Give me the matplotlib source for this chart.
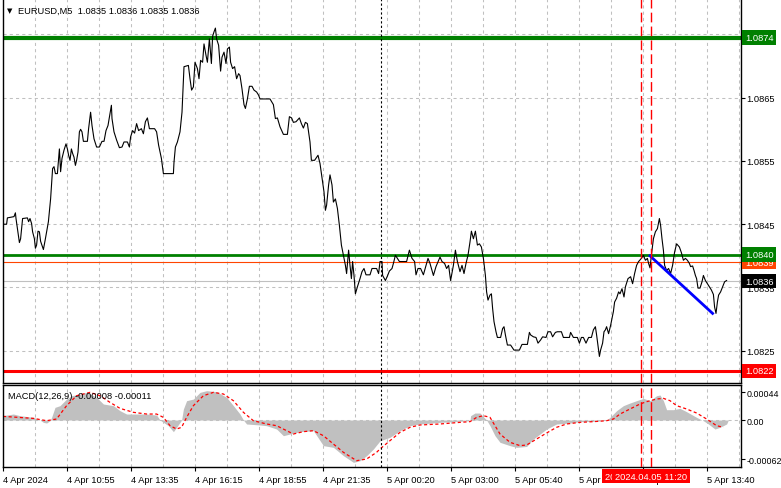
import matplotlib.pyplot as plt
from matplotlib.transforms import blended_transform_factory as blend

plt.rcParams['font.family'] = ['Liberation Sans', 'DejaVu Sans']
FS = 6.7

# EURUSD M5 close line: bar number and close price
bars = [0, 1.8, 2.2, 5.5, 6.2, 6.5, 7.7, 8.2, 8.8, 9.8, 12.2, 12.8, 13.5, 14.3, 14.8, 15.7, 16.2, 16.8,
        17.5, 18.2, 18.8, 20.2, 21.2, 22.7, 23.8, 24.8, 25.5, 26.2, 27.2, 28.2, 28.8, 29.5, 30.5, 31.5,
        32.2, 32.8, 33.5, 34.2, 34.8, 35.5, 36.2, 36.8, 37.5, 38.2, 38.8, 39.5, 40.2, 42.2, 42.8, 43.8,
        44.5, 45.5, 46.8, 48.2, 49.5, 50.5, 51.5, 52.5, 54.2, 54.5, 55.5, 56.8, 58.2, 59.5, 60.5, 62.2,
        63.2, 63.8, 64.8, 65.8, 66.8, 67.8, 69.2, 70.2, 71.2, 72.2, 73.2, 75.8, 76.8, 77.8, 79.2, 80.2,
        85.2, 85.5, 86.2, 87.2, 88.5, 89.5, 89.8,
        90.5, 92.7, 93.5, 94.3, 95.2, 96.0, 97.2, 98.0, 98.8, 99.8, 100.5, 101.5, 102.2, 103.2, 104.2,
        104.8, 105.5, 106.2, 106.8, 107.8, 108.8, 109.5, 110.5, 111.5, 112.2, 113.2, 113.8, 114.8, 115.8,
        116.8, 117.8, 118.5, 119.5, 120.5, 121.2, 122.2, 123.2, 124.5, 125.5, 126.8, 127.8, 128.5,
        133.5, 135.2, 136.2, 137.2, 138.5, 140.2, 142.2, 143.2, 144.3, 145.2, 146.5, 148.2, 149.2, 150.2,
        151.2, 152.2, 153.5, 154.2, 155.8, 157.5, 158.5, 159.8, 160.5, 161.2, 161.8, 162.8, 163.5, 164.5,
        165.2, 166.2, 167.2, 168.2, 169.2, 170.2, 171.2, 171.8, 172.8, 173.5, 174.2, 174.8, 175.5, 176.2,
        177.2, 178.5, 179.5, 180.5, 181.5, 183.5, 184.5, 186.8, 187.8, 188.5, 189.5, 189.8, 191.2, 192.2,
        193.2, 194.5, 195.2, 196.2, 197.2, 198.2, 201.8, 203.2, 204.5, 205.8, 206.5, 207.5, 208.8, 210.2,
        211.5, 212.5, 213.5, 215.2, 216.5, 218.5, 219.5, 220.8, 221.8, 222.8, 223.8, 225.2, 226.2, 227.2,
        228.5, 229.5, 230.5, 231.5, 232.5, 233.5, 234.2, 235.2, 236.2, 237.2, 238.2, 239.2, 240.2, 241.2,
        241.8, 242.5, 243.5, 244.2, 244.8, 245.5, 246.5, 247.2, 248.8, 249.8, 250.5, 251.2, 252.2, 253.8,
        255.5, 258.2,
        259.5, 262.2, 263.2, 263.8, 265.2, 266.5, 267.5, 268.8, 269.8, 271.5, 272.5, 273.8, 274.8, 276.2,
        277.2, 279.2, 280.2, 283.2, 283.8, 285.2, 287.2, 288.2, 289.2, 290.2, 291.5, 292.8, 294.2, 295.2,
        296.2, 296.8, 297.8, 298.2, 298.8, 299.8, 300.5, 301.2, 301.8, 302.8, 303.8, 304.5, 305.2, 305.8,
        306.8, 307.8, 308.5, 309.5, 310.5, 311.2, 312.5, 313.8, 314.8, 315.8, 316.8, 317.8, 319.2, 320.2,
        321.2, 322.2, 322.8, 323.5, 324.2, 325.2, 326.2, 327.2, 328.2, 328.8, 329.5, 330.2, 330.8, 331.8,
        332.8, 333.8, 334.8, 335.8, 336.8, 338.2, 339.2, 340.2, 341.2, 342.2, 343.2, 343.8, 344.8, 345.5,
        346.2, 346.8, 347.5, 348.5, 349.5, 350.2, 351.2, 352.2, 353.2, 354.2, 355.2, 355.8, 356.5, 357.2,
        357.8, 358.8, 359.8, 360.8, 361.8]
close = [1.08450, 1.08450, 1.08460, 1.08462, 1.08468, 1.08459, 1.08433, 1.08421, 1.08427, 1.08459,
         1.08460, 1.08454, 1.08459, 1.08451, 1.08438, 1.08427, 1.08412, 1.08417, 1.08439, 1.08438,
         1.08423, 1.08410, 1.08427, 1.08454, 1.08490, 1.08538, 1.08541, 1.08530, 1.08530, 1.08569,
         1.08533, 1.08554, 1.08567, 1.08577, 1.08569, 1.08559, 1.08551, 1.08569, 1.08562, 1.08556,
         1.08543, 1.08551, 1.08564, 1.08596, 1.08600, 1.08596, 1.08581, 1.08581, 1.08601, 1.08627,
         1.08606, 1.08585, 1.08572, 1.08572, 1.08581, 1.08581, 1.08598, 1.08606, 1.08638, 1.08617,
         1.08596, 1.08583, 1.08571, 1.08572, 1.08580, 1.08580, 1.08572, 1.08588, 1.08598, 1.08594,
         1.08609, 1.08598, 1.08601, 1.08593, 1.08612, 1.08618, 1.08601, 1.08601, 1.08596, 1.08575,
         1.08554, 1.08530, 1.08530, 1.08548, 1.08572, 1.08580, 1.08596, 1.08627, 1.08648,
         1.08699, 1.08701, 1.08680, 1.08662, 1.08667, 1.08706, 1.08696, 1.08680, 1.08709, 1.08706,
         1.08735, 1.08717, 1.08706, 1.08743, 1.08704, 1.08747, 1.08754, 1.08760, 1.08743, 1.08733,
         1.08692, 1.08714, 1.08722, 1.08704, 1.08727, 1.08730, 1.08706, 1.08696, 1.08699, 1.08680,
         1.08688, 1.08685, 1.08664, 1.08639, 1.08633, 1.08648, 1.08668, 1.08668, 1.08662, 1.08659,
         1.08654, 1.08648,
         1.08648, 1.08639, 1.08617, 1.08618, 1.08604, 1.08592, 1.08592, 1.08620, 1.08618, 1.08611,
         1.08612, 1.08618, 1.08609, 1.08602, 1.08611, 1.08609, 1.08580, 1.08551, 1.08551, 1.08559,
         1.08546, 1.08517, 1.08501, 1.08472, 1.08480, 1.08512, 1.08528, 1.08512, 1.08485, 1.08490,
         1.08475, 1.08448, 1.08417, 1.08401, 1.08385, 1.08372, 1.08409, 1.08385, 1.08364, 1.08391,
         1.08369, 1.08340, 1.08351, 1.08364, 1.08375, 1.08380, 1.08370, 1.08370, 1.08380, 1.08380,
         1.08372, 1.08391, 1.08391, 1.08369, 1.08361, 1.08368, 1.08376, 1.08380, 1.08388, 1.08401,
         1.08396, 1.08391, 1.08391, 1.08409, 1.08396, 1.08391, 1.08370, 1.08380, 1.08380, 1.08370,
         1.08385, 1.08396, 1.08388, 1.08369, 1.08383, 1.08398, 1.08391, 1.08388, 1.08380, 1.08385,
         1.08361, 1.08385, 1.08409, 1.08391, 1.08375, 1.08385, 1.08372, 1.08388, 1.08401, 1.08422,
         1.08439, 1.08427, 1.08439, 1.08417, 1.08419, 1.08414, 1.08396, 1.08369, 1.08343, 1.08330,
         1.08338, 1.08340, 1.08317, 1.08296, 1.08280, 1.08271, 1.08271, 1.08285, 1.08288, 1.08275,
         1.08259, 1.08259, 1.08251, 1.08251,
         1.08260, 1.08260, 1.08279, 1.08275, 1.08272, 1.08271, 1.08262, 1.08267, 1.08272, 1.08271,
         1.08280, 1.08280, 1.08272, 1.08279, 1.08280, 1.08280, 1.08271, 1.08271, 1.08279, 1.08271,
         1.08271, 1.08262, 1.08271, 1.08271, 1.08262, 1.08271, 1.08271, 1.08283, 1.08288, 1.08275,
         1.08251, 1.08241, 1.08251, 1.08262, 1.08280, 1.08283, 1.08288, 1.08277, 1.08290, 1.08301,
         1.08312, 1.08327, 1.08333, 1.08343, 1.08340, 1.08348, 1.08335, 1.08351, 1.08364, 1.08367,
         1.08356, 1.08372, 1.08385, 1.08391, 1.08396, 1.08401, 1.08393, 1.08396, 1.08388, 1.08381,
         1.08401, 1.08427, 1.08438, 1.08443, 1.08459, 1.08448, 1.08427, 1.08409, 1.08385, 1.08377,
         1.08380, 1.08372, 1.08385, 1.08406, 1.08419, 1.08414, 1.08405, 1.08393, 1.08396, 1.08393,
         1.08388, 1.08383, 1.08384, 1.08377, 1.08369, 1.08364, 1.08349, 1.08349, 1.08359, 1.08369,
         1.08361, 1.08356, 1.08351, 1.08346, 1.08339, 1.08319, 1.08309, 1.08327, 1.08338, 1.08343,
         1.08351, 1.08359, 1.08361]

# MACD(12,26,9) histogram and signal
hist_bars = [0, 5.2, 8.5, 15.2, 18.5, 20.2, 21.8, 23.5, 24.3, 26, 28.5, 31.8, 34.3, 38.5, 41.8, 46.8,
             50.2, 55.2, 58.5, 61.8, 71.8, 76.8, 78.5, 80.2, 82.7, 85.2, 86.8, 89.3, 90.2, 91.8, 95.2,
             98.5, 101.8, 106.8, 111.8, 115.2, 118.5, 120.2, 121.8, 128.5, 131.8, 136.8, 140.2, 143.5,
             148.5, 155.2, 160.2, 165.2, 170.2, 175.2, 178.5, 181.8, 185.2, 188.5, 193.5, 198.5, 203.5,
             208.5, 218.5, 233.5, 233.8, 236, 238.5, 240.5, 241.8, 243.5, 246, 248.5, 253.5, 256.8,
             261.8, 265.2, 268.5, 271.8, 276.8, 283.5, 288.5, 296.8, 301.8, 303.5, 306.8, 310.2, 313.5,
             316.8, 320.2, 323.5, 326.8, 328.5, 330.2, 331.8, 335.2, 338.5, 341.8, 346.8, 350.2, 352.7,
             356, 358.5, 361.8, 362.7]
hist_vals = [0.000069, 0.000095, 0.000069, 0.000042, 0, -0.000037, -0.000048, -0.000011, 0.000042,
             0.000201, 0.000228, 0.000333, 0.000386, 0.000413, 0.000439, 0.00036, 0.000254, 0.000228,
             0.000148, 0.000095, 0.000095, 0.000079, 0, -0.000037, -0.00009, -0.000185, -0.000116, 0,
             0.000175, 0.000307, 0.000333, 0.000439, 0.000466, 0.00045, 0.00036, 0.000228, 0.000095, 0,
             -0.000063, -0.000079, -0.00009, -0.000143, -0.000249, -0.000222, -0.000185, -0.000169,
             -0.000407, -0.000434, -0.000566, -0.000672, -0.000646, -0.000566, -0.00046, -0.00033,
             -0.000275, -0.000169, -0.00009, -0.000063, -0.000037, -0.000011, 0.000069, 0.000111,
             0.000111, 0.000042, 0, -0.00009, -0.000249, -0.000354, -0.000407, -0.000434, -0.00042,
             -0.000302, -0.000222, -0.000143, -0.000063, -0.000048, -0.000026, -0.000021, 0, 0.000042,
             0.000148, 0.000228, 0.00027, 0.000307, 0.000344, 0.000307, 0.000386, 0.000397, 0.000307,
             0.000164, 0.000164, 0.000185, 0.000132, 0.000042, -0.000011, -0.000063, -0.000143,
             -0.000116, -0.000063, 0]
sig_bars = [0, 15.2, 21.8, 26.8, 31.8, 36.8, 43.5, 48.5, 53.5, 58.5, 65.2, 71.8, 76.8, 80.2, 83.5,
            86.8, 89.3, 91.8, 95.2, 100.2, 105.2, 110.2, 115.2, 120.2, 125.2, 131.8, 136.8, 141.8,
            145.2, 150.2, 155.2, 160.2, 165.2, 170.2, 176.8, 181.8, 186.8, 188.5, 193.5, 198.5, 203.5,
            208.5, 218.5, 228.5, 233.5, 236.8, 240.2, 243.5, 246, 248.5, 253.5, 258.5, 261.8, 266.8,
            271.8, 276.8, 281.8, 288.5, 295.2, 301.8, 305.2, 308.5, 313.5, 318.5, 321.8, 326.8, 330.2,
            333.5, 336.8, 341.8, 346.8, 351.8, 356.8, 360.2]
sig_vals = [0.000058, 0.000026, -0.000011, 0.000016, 0.000228, 0.000386, 0.000439, 0.000386, 0.00028,
            0.000185, 0.000122, 0.000095, 0.000095, 0.000042, -0.00009, -0.000143, -0.000116,
            0.000042, 0.000228, 0.000386, 0.000439, 0.000413, 0.000307, 0.000122, -0.000011,
            -0.000063, -0.00009, -0.000169, -0.000222, -0.000185, -0.000169, -0.000249, -0.000381,
            -0.000513, -0.000646, -0.000619, -0.000513, -0.00046, -0.000328, -0.000196, -0.000116,
            -0.000079, -0.000063, -0.000037, -0.000026, 0.000042, 0.000069, 0.000042, -0.00009,
            -0.000222, -0.000354, -0.000407, -0.000397, -0.000302, -0.000206, -0.000116, -0.000063,
            -0.000037, -0.000026, -0.000011, 0.000016, 0.000095, 0.000175, 0.000254, 0.000291,
            0.000333, 0.000344, 0.000307, 0.000228, 0.000175, 0.000111, 0.000016, -0.00009, -0.000116]

# horizontal levels
levels = [1.08745, 1.08402, 1.0839, 1.0836, 1.08218]
level_labels = ['1.0874', '1.0840', '1.0839', '1.0836', '1.0822']
level_colors = ['#008000', '#008000', '#ff4500', '#c0c0c0', '#ff0000']
level_widths = [3.0, 2.0, 0.8, 0.8, 2.2]
label_boxes = ['#008000', '#008000', '#ff4500', '#000000', '#ff0000']
label_order = [2, 1, 3, 0, 4]   # drawing order, later ones on top

# trend line (bar, price)
trend_bars = [323.5, 354.8]
trend_prices = [1.08400, 1.08309]

# vertical markers
vlines_red = [319, 324]
vline_labels = ['2024.04.05 10:55', '2024.04.05 11:20']
vline_black = 189

price_ticks = [1.0825, 1.0835, 1.0845, 1.0855, 1.0865, 1.0875]
macd_ticks = [0.00044, 0.0, -0.00062]
macd_tick_labels = ['0.00044', '0.00', '-0.00062']
time_ticks = [0, 32, 64, 96, 128, 160, 192, 224, 256, 288, 320, 352]
time_labels = ['4 Apr 2024', '4 Apr 10:55', '4 Apr 13:35', '4 Apr 16:15', '4 Apr 18:55',
               '4 Apr 21:35', '5 Apr 00:20', '5 Apr 03:00', '5 Apr 05:40', '5 Apr 08:20',
               '5 Apr 11:00', '5 Apr 13:40']

W, H = 781, 489


def rect(x0, y0, x1, y1):
    return [x0 / W, 1 - y1 / H, (x1 - x0) / W, (y1 - y0) / H]


fig = plt.figure(figsize=(W / 100, H / 100), dpi=100)
ax = fig.add_axes(rect(3, 0, 741, 384))
mx = fig.add_axes(rect(3, 386, 741, 468))

grid_kw = dict(color='#c0c0c0', lw=0.75, ls=(0, (3, 3)), zorder=0)
for a in (ax, mx):
    a.set_xlim(0, 369)
    for b in range(16, 369, 16):
        a.axvline(b, **grid_kw)
    for s in a.spines.values():
        s.set_linewidth(1.0)
ax.spines['top'].set_visible(False)

# main price panel
ax.set_ylim(1.08199, 1.08806)
for p in price_ticks:
    ax.axhline(p, **grid_kw)
for lv, c, w in zip(levels, level_colors, level_widths):
    ax.axhline(lv, color=c, lw=w, zorder=1)
ax.plot(bars, close, color='black', lw=0.8, zorder=2)
ax.plot(trend_bars, trend_prices, color='#0000ff', lw=2.0, zorder=3)

ax.yaxis.tick_right()
ax.set_yticks(price_ticks)
ax.set_yticklabels([f'{p:.4f}' for p in price_ticks])
ax.tick_params(axis='y', length=3, pad=1, labelsize=FS, width=0.8)
ax.tick_params(axis='x', bottom=False, labelbottom=False)

tr = blend(ax.transAxes, ax.transData)
for k, i in enumerate(label_order):
    ax.text(1.0055, levels[i], level_labels[i], transform=tr, ha='left', va='center',
            fontsize=FS, color='white', clip_on=False, zorder=5 + k,
            bbox=dict(boxstyle='square,pad=0.3', fc=label_boxes[i], ec='none'))

ax.text(0.006, 0.971, '\u25bc', transform=ax.transAxes, fontsize=5, va='center',
        family='DejaVu Sans')
ax.text(0.021, 0.971, 'EURUSD,M5  1.0835 1.0836 1.0835 1.0836', transform=ax.transAxes,
        fontsize=FS, va='center')

# MACD panel
mx.set_ylim(-0.000746, 0.000556)
mx.axhline(0, **grid_kw)
mx.fill_between(hist_bars, 0, hist_vals, color='#c0c0c0', lw=0, zorder=1)
mx.plot(sig_bars, sig_vals, color='#ff0000', lw=0.9, ls=(0, (2.5, 2)), zorder=2)
mx.text(0.007, 0.878, 'MACD(12,26,9) -0.00008 -0.00011', transform=mx.transAxes,
        fontsize=FS, va='center')

mx.yaxis.tick_right()
mx.set_yticks(macd_ticks)
mx.set_yticklabels(macd_tick_labels)
mx.tick_params(axis='y', length=3, pad=1, labelsize=6.4, width=0.8)
mx.set_xticks(time_ticks)
mx.set_xticklabels(time_labels)
for t in mx.get_xticklabels():
    t.set_horizontalalignment('left')
mx.tick_params(axis='x', length=3, pad=3, labelsize=FS, width=0.8)

# vertical markers through both panels
for a in (ax, mx):
    a.axvline(vline_black, color='black', lw=0.8, ls=(0, (2, 2)), zorder=4)
    for b in vlines_red:
        a.axvline(b, color='#ff0000', lw=1.0, ls=(0, (7, 3)), zorder=4)

trm = blend(mx.transData, mx.transAxes)
for b, lab in zip(vlines_red, vline_labels):
    mx.text(b, -0.11, lab, transform=trm, ha='center', va='center', fontsize=FS,
            color='white', clip_on=False, zorder=6,
            bbox=dict(boxstyle='square,pad=0.3', fc='#ff0000', ec='none'))

fig.savefig('out.png', dpi=100)
